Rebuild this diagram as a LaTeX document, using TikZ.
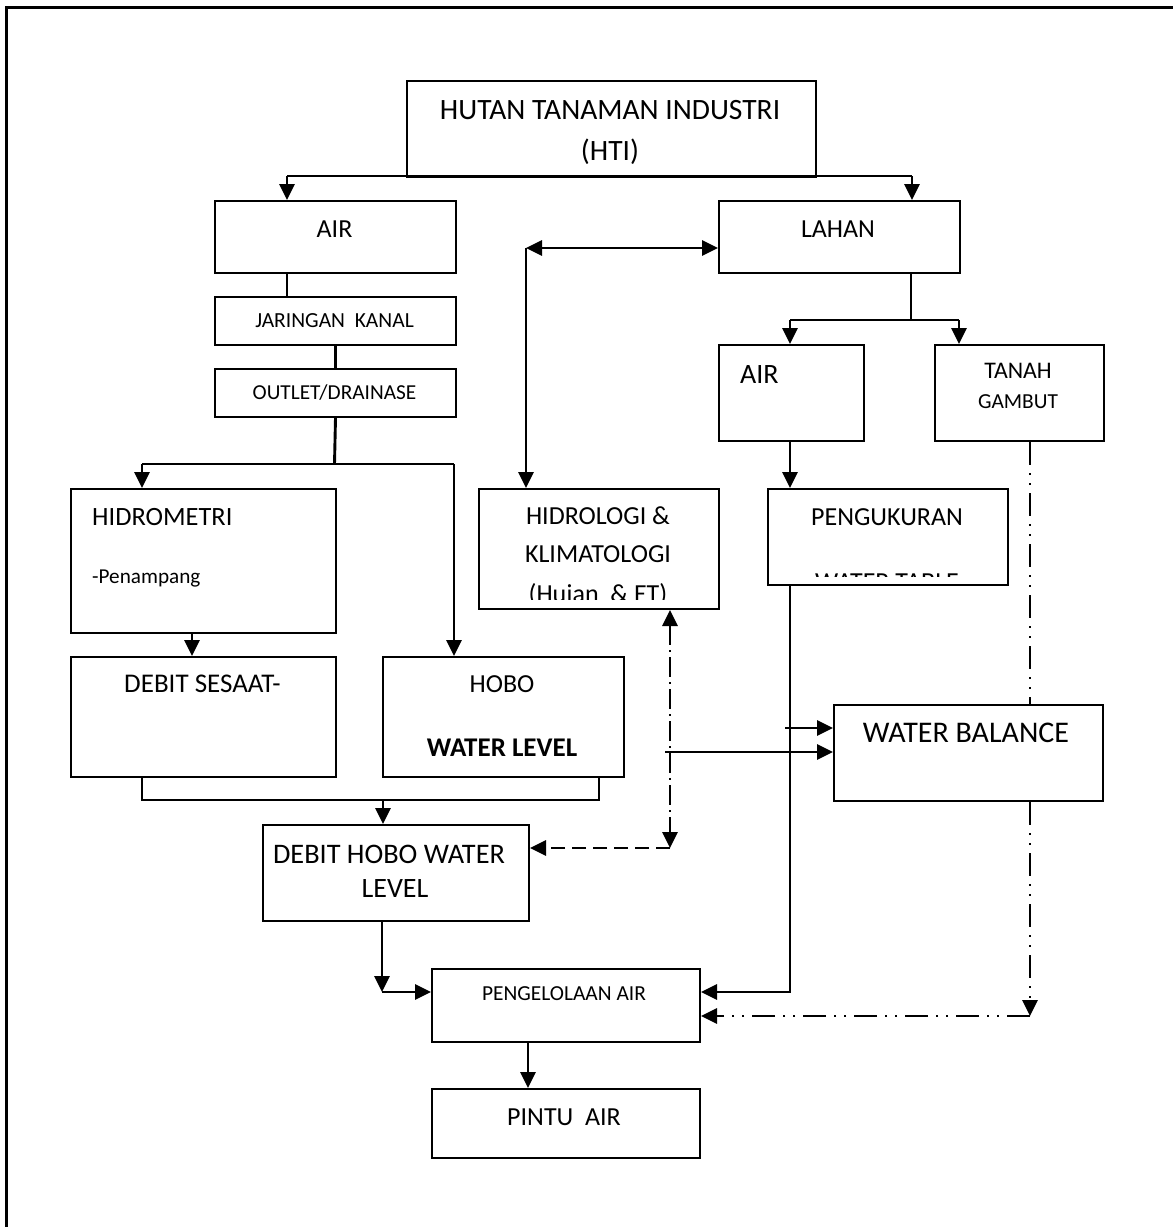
\documentclass[tikz,border=0pt]{standalone}
\usepackage{fontspec}
\setmainfont{Carlito}
\usetikzlibrary{arrows.meta}
\newcommand\fsz[1]{\fontsize{#1}{#1}\selectfont}
\begin{document}
\begin{tikzpicture}[x=1pt,y=-1pt,
  box/.style={draw,line width=2pt,fill=white,inner sep=0pt,anchor=north west},
  txt/.style={inner sep=0pt,anchor=base},
  txtl/.style={inner sep=0pt,anchor=base west},
  conn/.style={line width=2.9pt},
  tipend/.style={-{Triangle[length=16pt,width=15pt]}},
  tipboth/.style={{Triangle[length=16pt,width=15pt]}-{Triangle[length=16pt,width=15pt]}},
  dashdotline/.style={line width=2.9pt,dash pattern=on 20pt off 5pt on 2pt off 5pt},
  dashline/.style={line width=2.9pt,dash pattern=on 14pt off 7pt},
  ddline/.style={line width=2.9pt,dash pattern=on 23pt off 8pt on 2pt off 8pt on 2pt off 8pt}
]
\useasboundingbox (0,0) rectangle (1173,1227);
\fill[white] (0,0) rectangle (1173,1227);
% outer frame
\draw[line width=3pt] (6,1227) -- (6,7) -- (1173,7);

% boxes
\node[box,minimum width=409pt,minimum height=96pt] (hti) at (406,80) {};
\node[box,minimum width=241pt,minimum height=72pt] (airL) at (214,200) {};
\node[box,minimum width=241pt,minimum height=48pt] (jar) at (214,296) {};
\node[box,minimum width=241pt,minimum height=48pt] (out) at (214,368) {};
\node[box,minimum width=241pt,minimum height=72pt] (lahan) at (718,200) {};
\node[box,minimum width=145pt,minimum height=96pt] (airR) at (718,344) {};
\node[box,minimum width=169pt,minimum height=96pt] (tanah) at (934,344) {};
\node[box,minimum width=265pt,minimum height=144pt] (hidrom) at (70,488) {};
\node[box,minimum width=240pt,minimum height=120pt] (hidrol) at (478,488) {};
\node[box,minimum width=240pt,minimum height=96pt] (peng) at (767,488) {};
\node[box,minimum width=265pt,minimum height=120pt] (debs) at (70,656) {};
\node[box,minimum width=241pt,minimum height=120pt] (hobo) at (382,656) {};
\node[box,minimum width=269pt,minimum height=96pt] (wb) at (833,704) {};
\node[box,minimum width=266pt,minimum height=96pt] (dhwl) at (262,824) {};
\node[box,minimum width=268pt,minimum height=73pt] (pa) at (431,968) {};
\node[box,minimum width=268pt,minimum height=69pt] (pintu) at (431,1088) {};

% texts
\node[txt,font=\fsz{29.5}] (htiA) at (610,119) {HUTAN TANAMAN INDUSTRI};
\node[txt,font=\fsz{29.5}] (htiB) at (610,160) {(HTI)};
\node[txt,font=\fsz{26}] (airLt) at (334.5,237) {AIR};
\node[txt,font=\fsz{21.5}] (jart) at (334.5,327) {JARINGAN~~KANAL};
\node[txt,font=\fsz{21.3}] (outt) at (334.5,399) {OUTLET/DRAINASE};
\node[txt,font=\fsz{26}] (lahant) at (838,237) {LAHAN};
\node[txtl,font=\fsz{28}] (airRt) at (740,383) {AIR};
\node[txt,font=\fsz{23.8}] (tanahA) at (1018,378) {TANAH};
\node[txt,font=\fsz{21.4}] (tanahB) at (1018,408) {GAMBUT};
\node[txtl,font=\fsz{26.4}] (hidromA) at (92,525) {HIDROMETRI};
\node[txtl,font=\fsz{21.2}] (hidromB) at (92,583) {-Penampang};
\node[txt,font=\fsz{27}] (debst) at (202.5,692) {DEBIT SESAAT-};
\node[txt,font=\fsz{26}] (hoboA) at (502,692) {HOBO};
\node[txt,font=\fsz{27}\bfseries] (hoboB) at (502,756) {WATER LEVEL};
\node[txt,font=\fsz{26}] (hidrolA) at (598,524) {HIDROLOGI \&};
\node[txt,font=\fsz{26}] (hidrolB) at (598,562) {KLIMATOLOGI};
\begin{scope}
\clip (478,488) rectangle (718,599);
\node[txt,font=\fsz{26}] (hidrolC) at (598,602) {(Hujan~~\& ET)};
\end{scope}
\node[txt,font=\fsz{26}] (pengA) at (887,525) {PENGUKURAN};
\begin{scope}
\clip (767,488) rectangle (1007,576);
\node[txt,font=\fsz{26}] (pengB) at (887,590) {WATER TABLE};
\end{scope}
\node[txt,font=\fsz{30}] (wbt) at (966,742) {WATER BALANCE};
\node[txt,font=\fsz{28.3}] (dhwlA) at (389,863) {DEBIT HOBO WATER};
\node[txt,font=\fsz{28}] (dhwlB) at (395,897) {LEVEL};
\node[txt,font=\fsz{21.4}] (pat) at (564,1000) {PENGELOLAAN AIR};
\node[txt,font=\fsz{26}] (pintut) at (564,1125) {PINTU~~AIR};

% connectors
\coordinate (j1) at (287,176);
\coordinate (j2) at (912,176);
\draw[conn] (j1) -- (j2);
\draw[conn,tipend] (j1) -- (j1 |- airL.north);
\draw[conn,tipend] (j2) -- (j2 |- lahan.north);

\draw[conn] (airL.south -| j1) -- (jar.north -| j1);
\draw[conn] (jar) -- (out);

\coordinate (o1) at (334.5,464);
\coordinate (o2) at (142,464);
\coordinate (o3) at (454,464);
\draw[conn] (out.south) -- (o1);
\draw[conn] (o2) -- (o3);
\draw[conn,tipend] (o2) -- (o2 |- hidrom.north);
\draw[conn,tipend] (o3) -- (o3 |- hobo.north);

\draw[conn,tipend] ([xshift=-11.5pt]hidrom.south) -- ([xshift=-11.5pt]debs.north);

\coordinate (m1) at (142,800);
\coordinate (m2) at (599,800);
\coordinate (m3) at (383,800);
\draw[conn] (m1 |- debs.south) -- (m1) -- (m2) -- (m2 |- hobo.south);
\draw[conn,tipend] (m3) -- (m3 |- dhwl.north);

\coordinate (p1) at (382,992);
\draw[conn,tipend] (p1 |- dhwl.south) -- (p1);
\draw[conn,tipend] (p1) -- (p1 -| pa.west);

\draw[conn,tipend] ([xshift=-38pt]pa.south) -- ([xshift=-38pt]pintu.north);

\coordinate (h1) at (526,248);
\draw[conn,tipboth] (h1) -- (h1 -| lahan.west);
\draw[conn,tipend] (h1) -- (h1 |- hidrol.north);

\coordinate (l1) at (911,320);
\coordinate (l2) at (790,320);
\coordinate (l3) at (959,320);
\draw[conn] (l1 |- lahan.south) -- (l1);
\draw[conn] (l2) -- (l3);
\draw[conn,tipend] (l2) -- (l2 |- airR.north);
\draw[conn,tipend] (l3) -- (l3 |- tanah.north);

\draw[conn,tipend] (airR.south -| l2) -- (peng.north -| l2);

\coordinate (q1) at (790,992);
\draw[conn,tipend] (q1 |- peng.south) -- (q1) -- (q1 -| pa.east);

\coordinate (t1) at (1030,1016);
\draw[ddline] (t1 |- tanah.south) -- (t1 |- wb.north);
\draw[ddline,tipend] (t1 |- wb.south) -- (t1);
\draw[ddline,tipend] (t1) -- (t1 -| pa.east);

\coordinate (k1) at (670,848);
\draw[dashdotline,tipboth] (k1 |- hidrol.south) -- (k1);
\draw[dashline,tipend] (k1) -- (k1 -| dhwl.east);

\coordinate (w1) at (665,752);
\coordinate (w2) at (785,728);
\draw[conn,tipend] (w1) -- (w1 -| wb.west);
\draw[conn,tipend] (w2) -- (w2 -| wb.west);
\end{tikzpicture}
\end{document}
